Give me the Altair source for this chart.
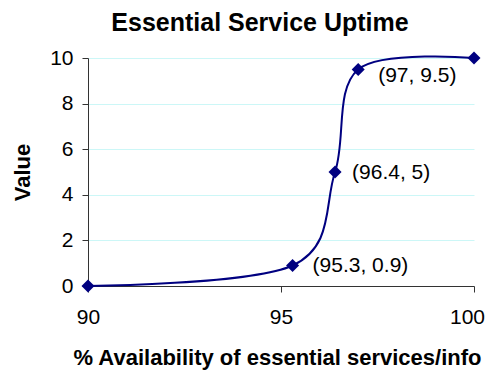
import altair as alt
import pandas as pd

xs = [90, 95.3, 96.4, 97, 100]
ys = [0, 0.9, 5, 9.5, 10]
labels = ["", "(95.3, 0.9)", "(96.4, 5)", "(97, 9.5)", ""]

df = pd.DataFrame({"x": xs, "y": ys, "label": labels})

# label nudges (pixels) for each annotated point
nudges = {"(95.3, 0.9)": (20, 1), "(96.4, 5)": (17, 1), "(97, 9.5)": (20, 7)}

FONT = "Liberation Sans"
NAVY = "#000080"

xscale = alt.Scale(domain=[90, 100], nice=False, zero=False)
yscale = alt.Scale(domain=[0, 10], nice=False)

base = alt.Chart(df)

line = base.mark_line(interpolate="cardinal", color=NAVY, strokeWidth=2).encode(
    x=alt.X("x:Q", scale=xscale,
            axis=alt.Axis(title="% Availability of essential services/info",
                          values=[90, 95, 100], grid=False, tickSize=6,
                          labelPadding=14, labelFontSize=21, labelFont=FONT,
                          labelOffset={"condition": {"test": "datum.value == 100", "value": -7}, "value": 0},
                          labelColor="#000", domainColor="#333", tickColor="#333",
                          titleFont=FONT, titleFontSize=22, titleFontWeight="bold",
                          titleX=189, titleAlign="center",
                          titlePadding=20, titleColor="#000", labelFlush=False)),
    y=alt.Y("y:Q", scale=yscale,
            axis=alt.Axis(title="Value", values=[0, 2, 4, 6, 8, 10], grid=True,
                          gridColor="#ccf7f7", gridWidth=1, tickSize=6,
                          labelPadding=9, labelFontSize=21, labelFont=FONT,
                          labelColor="#000", domainColor="#333", tickColor="#333",
                          titleFont=FONT, titleFontSize=22, titleFontWeight="bold",
                          titlePadding=15, titleColor="#000", labelFlush=False)),
)

points = base.mark_point(shape="diamond", filled=True, color=NAVY, size=170, opacity=1).encode(
    x="x:Q", y="y:Q"
)

texts = []
for lab, (ddx, ddy) in nudges.items():
    texts.append(
        base.transform_filter(alt.datum.label == lab).mark_text(
            align="left", baseline="middle", font=FONT, fontSize=21, color="#000",
            dx=ddx, dy=ddy,
        ).encode(x="x:Q", y="y:Q", text="label:N")
    )

chart = alt.layer(line, points, *texts).properties(
    width=386, height=228,
    title=alt.TitleParams("Essential Service Uptime", font=FONT, fontSize=25,
                          fontWeight="bold", color="#000", anchor="middle", dx=-21, offset=11),
    autosize=alt.AutoSizeParams(type="none"),
    padding={"left": 80, "top": 50, "right": 11, "bottom": 85},
).configure_view(stroke=None)

chart.save("out.html", embed_options={"renderer": "svg", "actions": False})
